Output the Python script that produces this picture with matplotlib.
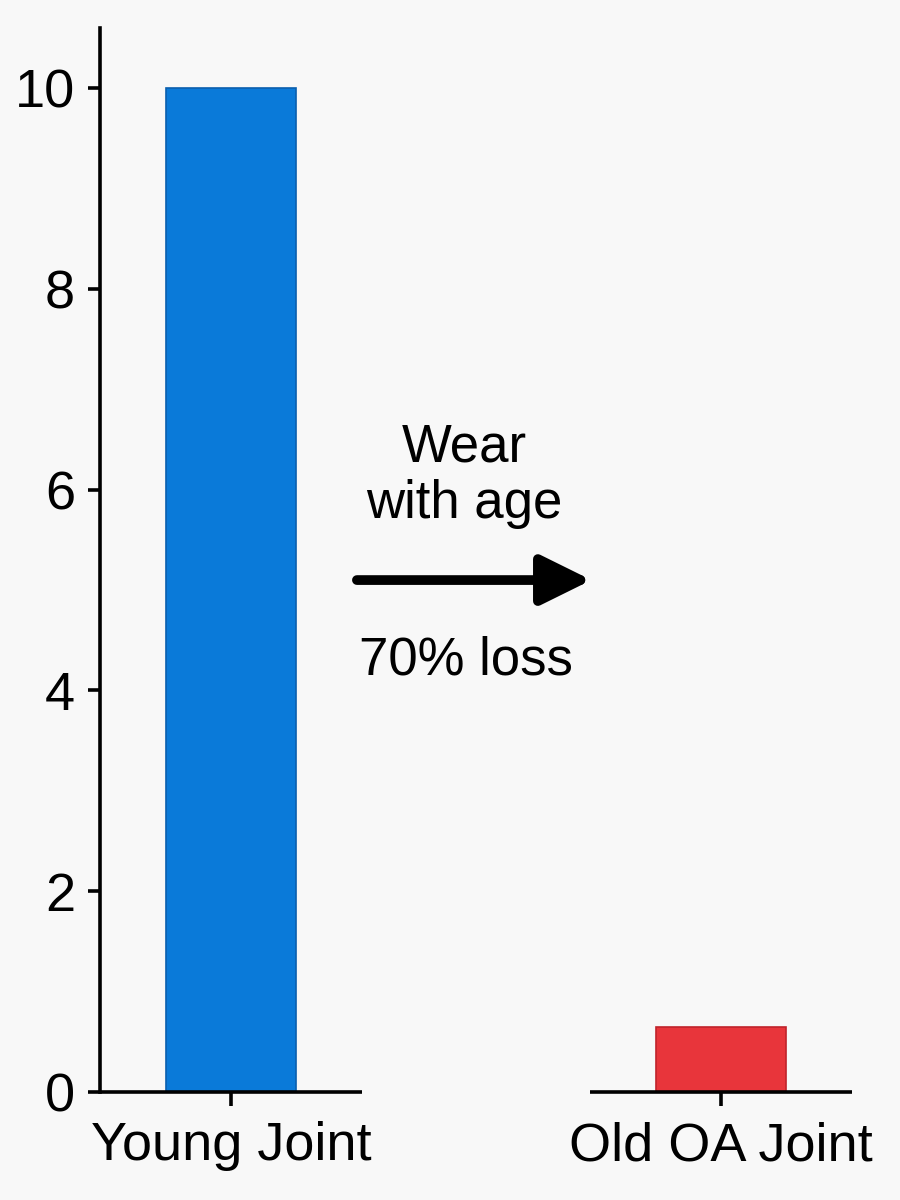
import matplotlib
matplotlib.use("Agg")
import matplotlib.pyplot as plt

# data
categories = ["Young Joint", "Old OA Joint"]
values = [10.0, 0.65]
bar_colors = ["#0a7ad9", "#e8353b"]
edge_colors = ["#0a5fae", "#c0232b"]
yticks = [0, 2, 4, 6, 8, 10]

plt.rcParams['font.family'] = ['Liberation Sans', 'DejaVu Sans']

fig = plt.figure(figsize=(9, 12), dpi=100)
fig.patch.set_facecolor('#f8f8f8')
ax = fig.add_axes([0.111, 0.09, 0.836, 0.8867])
ax.set_facecolor('#f8f8f8')

x = list(range(len(categories)))
bw = 0.265
ax.bar(x, values, width=bw, color=bar_colors, edgecolor=edge_colors, linewidth=1.2, zorder=2)

ax.set_xlim(-0.267, 1.267)
ax.set_ylim(0, 10.6)

# broken baseline: one segment under each bar
for xi in x:
    ax.plot([xi - 0.267, xi + 0.267], [0, 0], color='black', lw=2.6,
            solid_capstyle='butt', clip_on=False, zorder=3)

for s in ['top', 'right', 'bottom']:
    ax.spines[s].set_visible(False)
ax.spines['left'].set_linewidth(2.6)

ax.set_yticks(yticks)
ax.set_xticks(x)
ax.set_xticklabels(categories)
ax.tick_params(axis='y', length=9, width=2.6, labelsize=39, pad=9)
ax.tick_params(axis='x', length=10, width=2.6, labelsize=39, pad=11)

# annotation
ax.text(0.475, 6.14, "Wear\nwith age", ha='center', va='center', fontsize=38,
        linespacing=1.15)
ax.annotate("", xy=(0.735, 5.1), xytext=(0.257, 5.1),
            arrowprops=dict(arrowstyle='-|>,head_length=0.85,head_width=0.42',
                            mutation_scale=36, lw=7, color='black',
                            shrinkA=0, shrinkB=0))
ax.text(0.48, 4.3, "70% loss", ha='center', va='center', fontsize=38)

fig.savefig("out.png", dpi=100, facecolor=fig.get_facecolor())
